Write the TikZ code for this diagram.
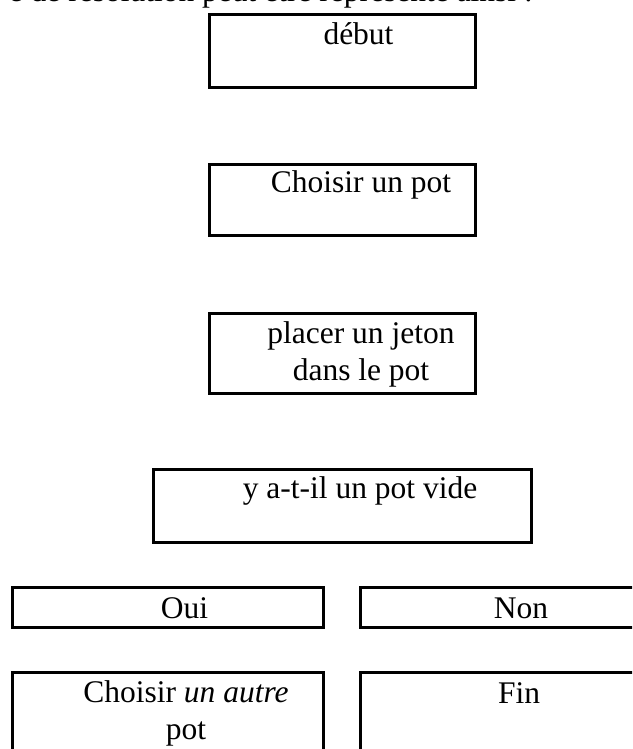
\documentclass[tikz,border=0pt]{standalone}
\usepackage{fontspec}
\setmainfont{Liberation Serif}
\tikzset{
    boite/.style={draw=black, line width=2.6pt, inner sep=0pt, anchor=north west},
    texte/.style={anchor=base, align=center, inner sep=0pt,
        font=\fontsize{31.5}{36.2}\selectfont}
}
\begin{document}
\begin{tikzpicture}[x=1pt,y=-1pt]
        % cadre de la page, comme la capture
        \useasboundingbox (0,0) rectangle (632,749);
        \clip (0,0) rectangle (632,749);

        \node[texte, anchor=base east] (phrase) at (533,1.5) {e de résolution peut être représenté ainsi :};

        \foreach \n/\x/\y/\w/\h in
        { debut/208/13/266/73,
            choix/208/163/266/71,
            jeton/208/312/266/80,
            vide/152/468/378/73,
            oui/11/586/311/40,
            non/359/586/311/40,
            autre/11/671/311/120,
            fin/359/671/311/120
        }
        {
            \node[boite, minimum width=\w pt, minimum height=\h pt] (\n) at (\x,\y) {};
        };

        % base = ligne du bas pour les textes sur deux lignes
        \foreach \n/\x/\y/\t in
        { debut/358.5/45/début,
            choix/361/192/Choisir un pot,
            jeton/361/380/{placer un jeton\\dans le pot},
            vide/360/498/y a-t-il un pot vide,
            oui/184.5/618/Oui,
            non/521/618/Non,
            autre/186/739/{Choisir \emph{un autre}\\pot},
            fin/523/703/Fin
        }
        {
            \node[texte] (t-\n) at (\x,\y) {\t};
        };
\end{tikzpicture}
\end{document}
